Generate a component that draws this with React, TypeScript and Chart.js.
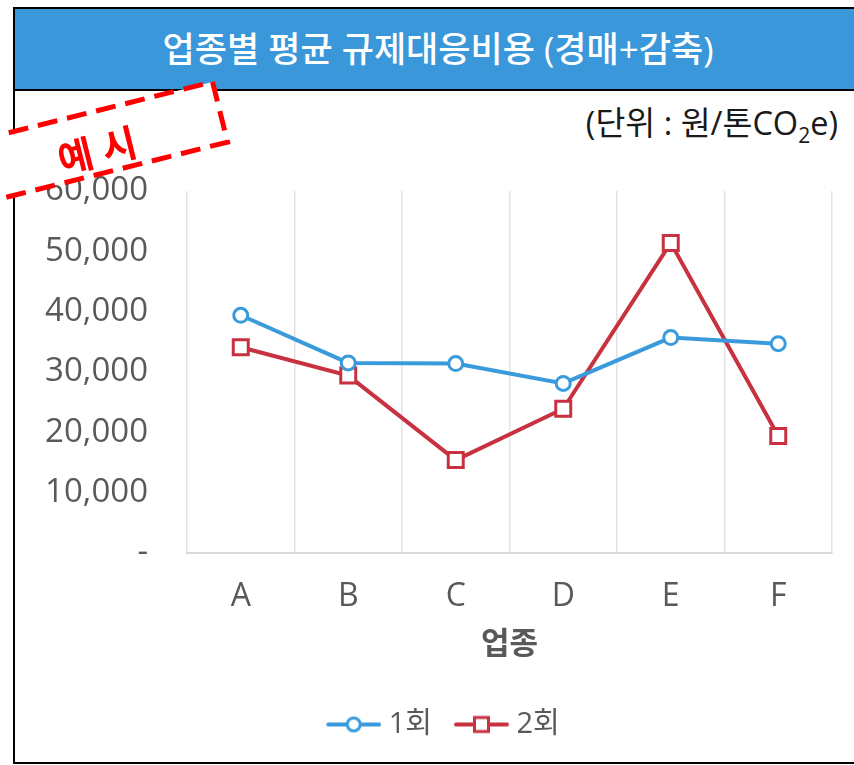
import React, { useEffect, useRef } from 'react';
import { Chart, registerables } from 'chart.js';

Chart.register(...registerables);

const categories = ['A', 'B', 'C', 'D', 'E', 'F'];
const seriesNames = ['1회', '2회'];
const round1 = [39400, 31500, 31400, 28100, 35700, 34700];
const round2 = [34100, 29400, 15400, 23900, 51400, 19400];
const yTickValues = [0, 10000, 20000, 30000, 40000, 50000, 60000];

const BLUE = '#3a9bdc';
const RED = '#c8313f';
const GRAY_TEXT = '#595959';
const FONT = "'Open Sans', 'Noto Sans CJK KR', sans-serif";
const LEGEND_SHIFT = 16;

function makeLegendIcon(color: string, shape: 'circle' | 'rect') {
  const c = document.createElement('canvas');
  c.width = 64;
  c.height = 22;
  const ctx = c.getContext('2d')!;
  ctx.strokeStyle = color;
  ctx.lineWidth = 4;
  ctx.lineCap = 'round';
  ctx.beginPath();
  ctx.moveTo(11, 11);
  ctx.lineTo(62, 11);
  ctx.stroke();
  ctx.fillStyle = '#ffffff';
  ctx.lineWidth = 3;
  ctx.beginPath();
  if (shape === 'circle') {
    ctx.arc(36.5, 11, 6.5, 0, Math.PI * 2);
  } else {
    ctx.rect(36.5 - 7, 11 - 7, 14, 14);
  }
  ctx.fill();
  ctx.stroke();
  return c;
}

export default function App() {
  const canvasRef = useRef<HTMLCanvasElement | null>(null);

  useEffect(() => {
    const canvas = canvasRef.current;
    if (!canvas) return;
    const icons = [makeLegendIcon(BLUE, 'circle'), makeLegendIcon(RED, 'rect')];
    const chart = new Chart(canvas, {
      type: 'line',
      data: {
        labels: categories,
        datasets: [
          {
            label: seriesNames[0],
            data: round1,
            borderColor: BLUE,
            backgroundColor: '#ffffff',
            borderWidth: 4,
            pointStyle: 'circle',
            pointRadius: 7,
            pointBorderWidth: 3,
            pointBackgroundColor: '#ffffff',
            pointBorderColor: BLUE,
            tension: 0,
          },
          {
            label: seriesNames[1],
            data: round2,
            borderColor: RED,
            backgroundColor: '#ffffff',
            borderWidth: 4,
            pointStyle: 'rect',
            pointRadius: 10.6,
            pointBorderWidth: 3,
            pointBackgroundColor: '#ffffff',
            pointBorderColor: RED,
            tension: 0,
          },
        ],
      },
      options: {
        responsive: false,
        animation: false,
        devicePixelRatio: 1,
        layout: { padding: { left: 20, top: 191, right: 22, bottom: 16 } },
        plugins: {
          title: { display: false },
          tooltip: { enabled: false },
          legend: {
            position: 'bottom',
            labels: {
              usePointStyle: true,
              pointStyleWidth: 50,
              padding: 20,
              color: GRAY_TEXT,
              font: { family: FONT, size: 29 },
              generateLabels: (ch: any) =>
                ch.data.datasets.map((ds: any, i: number) => ({
                  text: ds.label,
                  pointStyle: icons[i],
                  fillStyle: '#fff',
                  strokeStyle: ds.borderColor,
                  lineWidth: 0,
                  fontColor: GRAY_TEXT,
                  hidden: false,
                  datasetIndex: i,
                })),
            },
          },
        },
        scales: {
          x: {
            type: 'category',
            offset: true,
            grid: { display: true, offset: true, color: '#e3e3e3', lineWidth: 1.5, drawTicks: false },
            border: { display: true, color: '#d9d9d9', width: 2 },
            ticks: { color: GRAY_TEXT, font: { family: FONT, size: 32 }, padding: 25 },
            title: {
              display: true,
              text: '업종',
              color: GRAY_TEXT,
              font: { family: FONT, size: 31, weight: 'bold' },
              padding: { top: 0, bottom: 26 },
            },
            afterFit: (s: any) => {
              s.height = 137;
            },
          },
          y: {
            min: 0,
            max: 60000,
            grid: { display: false, drawTicks: false },
            border: { display: false },
            ticks: {
              color: GRAY_TEXT,
              font: { family: FONT, size: 33 },
              padding: 39,
              callback: (v: any) => (Number(v) === 0 ? '-' : Number(v).toLocaleString('en-US')),
            },
            afterBuildTicks: (s: any) => {
              s.ticks = yTickValues.map((v) => ({ value: v }));
            },
            afterFit: (s: any) => {
              s.width = 167;
            },
          },
        },
      },
    });
    const leg: any = chart.legend;
    if (leg) {
      const origDraw = leg.draw.bind(leg);
      leg.draw = (...args: any[]) => {
        const ctx = chart.ctx;
        ctx.save();
        ctx.translate(LEGEND_SHIFT, 0);
        origDraw(...args);
        ctx.restore();
      };
      chart.draw();
    }
    return () => chart.destroy();
  }, []);

  return (
    <div
      style={{
        position: 'fixed',
        left: 0,
        top: 0,
        width: 854,
        height: 765,
        background: '#ffffff',
        overflow: 'hidden',
        fontFamily: FONT,
      }}
    >
      <div
        style={{
          position: 'absolute',
          left: 13,
          top: 7,
          width: 900,
          height: 757,
          border: '2px solid #000',
          boxSizing: 'border-box',
        }}
      />
      <div
        style={{
          position: 'absolute',
          left: 15,
          top: 9,
          width: 900,
          height: 82,
          background: '#3a98da',
          borderBottom: '2px solid #000',
          boxSizing: 'border-box',
        }}
      />
      <div
        style={{
          position: 'absolute',
          left: 88,
          top: 9,
          width: 700,
          height: 80,
          lineHeight: '80px',
          textAlign: 'center',
          color: '#ffffff',
          fontSize: 35,
          fontWeight: 500,
          whiteSpace: 'nowrap',
        }}
      >
        업종별 평균 규제대응비용 (경매+감축)
      </div>
      <div
        style={{
          position: 'absolute',
          right: 16,
          top: 101,
          fontSize: 32.5,
          lineHeight: '44px',
          color: '#1a1a1a',
          whiteSpace: 'nowrap',
        }}
      >
        (단위 : 원/톤CO<sub style={{ fontSize: 21 }}>2</sub>e)
      </div>
      <canvas
        ref={canvasRef}
        width={854}
        height={765}
        style={{ position: 'absolute', left: 0, top: 0, width: 854, height: 765 }}
      />
      <svg
        width={854}
        height={765}
        style={{ position: 'absolute', left: 0, top: 0, pointerEvents: 'none' }}
      >
        <g transform="translate(74.5 148.3) rotate(-14)">
          <rect
            x={-150}
            y={-31}
            width={300}
            height={62}
            fill="#ffffff"
            stroke="#ff0000"
            strokeWidth={5}
            strokeDasharray="20 10"
          />
        </g>
        <text
          x={97}
          y={150}
          transform="rotate(-14 97 150)"
          textAnchor="middle"
          dominantBaseline="central"
          fill="#ff0000"
          fontSize={38}
          fontWeight="bold"
          fontFamily={FONT}
        >
          예 시
        </text>
      </svg>
    </div>
  );
}
